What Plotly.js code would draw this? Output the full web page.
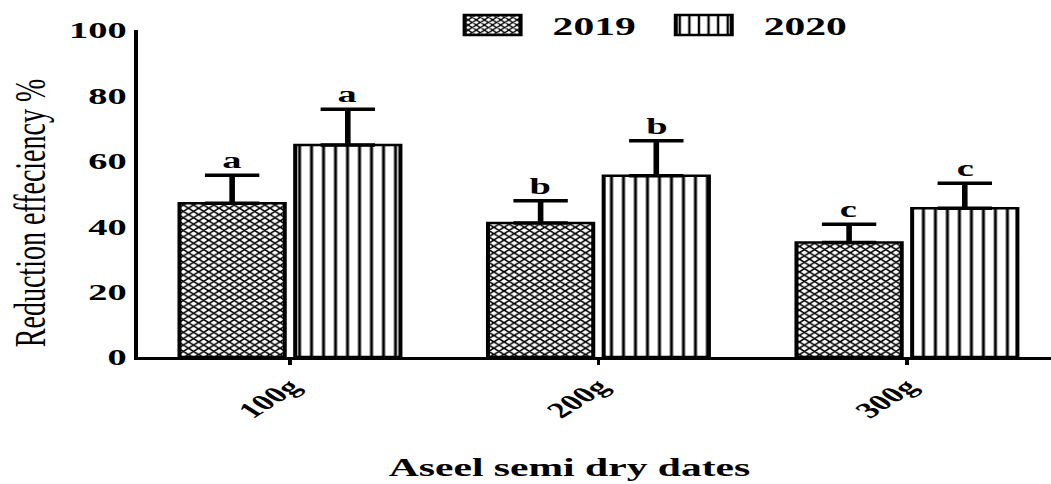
<!DOCTYPE html>
<html>
<head>
<meta charset="utf-8">
<script src="https://cdn.plot.ly/plotly-3.0.1.min.js"></script>
<style>
  html, body { margin: 0; padding: 0; background: #fff; overflow: hidden; }
  /* the figure is laid out narrow and widened horizontally, giving the wide serif look */
  #chart { width: 657px; height: 484px; transform: scaleX(1.5997); transform-origin: 0 0; }
</style>
</head>
<body>
<div id="chart"></div>
<script>
// Reduction efficiency (%) of Aseel semi dry dates by dose and season
const doses = ['100g', '200g', '300g'];
const years = ['2019', '2020'];
const eff2019 = [47, 41, 35];
const err2019 = [8.6, 6.8, 5.6];
const eff2020 = [64.8, 55.4, 45.5];
const err2020 = [11, 10.7, 7.6];
const letters2019 = ['a', 'b', 'c'];
const letters2020 = ['a', 'b', 'c'];
const yTicks = [0, 20, 40, 60, 80, 100];

const SERIF = '"Liberation Serif", "Times New Roman", "DejaVu Serif", serif';
const BARGAP = 0.25;

function barTrace(name, values, errs, pattern) {
  return {
    type: 'bar',
    name: name,
    x: doses,
    y: values,
    marker: {
      color: '#ffffff',
      line: { color: '#000000', width: 2.5 },
      pattern: pattern
    },
    error_y: {
      type: 'data',
      symmetric: false,
      array: errs,
      arrayminus: errs.map(() => 0),
      color: '#000000',
      thickness: 3.5,
      width: 17
    },
    hoverinfo: 'skip'
  };
}

const data = [
  barTrace(years[0], eff2019, err2019,
    { shape: 'x', size: 4.5, solidity: 0.5, fgcolor: '#000000', bgcolor: '#ffffff', fillmode: 'replace' }),
  barTrace(years[1], eff2020, err2020,
    { shape: '|', size: 7.5, solidity: 0.25, fgcolor: '#000000', bgcolor: '#ffffff', fillmode: 'replace' })
];

// significance letters sit just above each error cap
const half = (1 - BARGAP) / 4;
const letterNotes = [];
doses.forEach((d, i) => {
  letterNotes.push({ x: i - half, y: eff2019[i] + err2019[i], text: letters2019[i] });
  letterNotes.push({ x: i + half, y: eff2020[i] + err2020[i], text: letters2020[i] });
});

const annotations = letterNotes.map(n => ({
  x: n.x, y: n.y, xref: 'x', yref: 'y', text: n.text,
  showarrow: false, yanchor: 'bottom', yshift: 0,
  font: { family: SERIF, size: 24, weight: 'bold', color: '#000' }
}));

annotations.push({
  xref: 'paper', yref: 'paper', x: -0.119, y: 0.44,
  text: 'Reduction effeciency %', textangle: -90, showarrow: false,
  xanchor: 'center', yanchor: 'middle',
  font: { family: SERIF, size: 28, color: '#000' }
});
annotations.push({
  xref: 'paper', yref: 'paper', x: 0.472, y: -0.339,
  text: 'Aseel semi dry dates', showarrow: false,
  xanchor: 'center', yanchor: 'middle',
  font: { family: SERIF, size: 26, weight: 'bold', color: '#000' }
});

const layout = {
  width: 657,
  height: 484,
  margin: { l: 86, r: 0, t: 30, b: 127, pad: 0 },
  paper_bgcolor: '#ffffff',
  plot_bgcolor: '#ffffff',
  barmode: 'group',
  bargap: BARGAP,
  bargroupgap: 0.09,
  font: { family: SERIF, color: '#000000' },
  showlegend: true,
  xaxis: {
    type: 'category',
    range: [-0.494, 2.467],
    showline: true, linecolor: '#000', linewidth: 3,
    ticks: 'outside', ticklen: 5, tickwidth: 2, tickcolor: '#000',
    tickangle: -45,
    tickfont: { family: SERIF, size: 22, weight: 'bold', color: '#000' },
    showgrid: false, zeroline: false,
    automargin: false
  },
  yaxis: {
    range: [0, 100],
    tickvals: yTicks,
    ticktext: yTicks.map(String),
    showline: true, linecolor: '#000', linewidth: 2,
    ticks: '',
    ticklabelstandoff: 0,
    tickfont: { family: SERIF, size: 24, weight: 'bold', color: '#000' },
    showgrid: false, zeroline: false,
    automargin: false
  },
  legend: {
    orientation: 'h',
    x: 0.323, xanchor: 'left',
    y: 1.015, yanchor: 'middle',
    itemwidth: 65,
    entrywidth: 52,
    bgcolor: 'rgba(0,0,0,0)',
    font: { family: SERIF, size: 26, weight: 'bold', color: '#000' }
  },
  annotations: annotations
};

Plotly.newPlot('chart', data, layout, { staticPlot: true, displayModeBar: false }).then(gd => {
  // wider legend swatches
  gd.querySelectorAll('.legend .legendpoints path').forEach(p => {
    p.setAttribute('d', 'M17.5,10H-17.5V-10H17.5Z');
  });
});
</script>
</body>
</html>
